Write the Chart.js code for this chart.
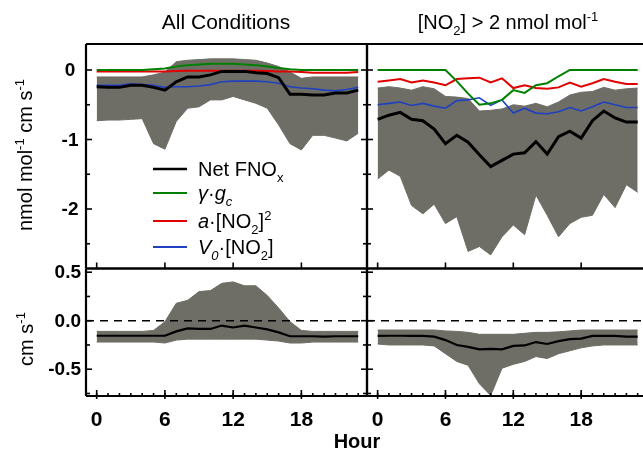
<!DOCTYPE html>
<html>
<head>
<meta charset="utf-8">
<script src="https://cdn.jsdelivr.net/npm/chart.js@4.4.1/dist/chart.umd.min.js"></script>
<style>
body { margin: 0; background: #fff; }
#wrap { position: relative; width: 643px; height: 453px; }
#wrap canvas { position: absolute; left: 0; top: 0; }
</style>
</head>
<body>
<div id="wrap">
<canvas id="tl" width="643" height="453"></canvas>
<canvas id="tr" width="643" height="453"></canvas>
<canvas id="bl" width="643" height="453"></canvas>
<canvas id="br" width="643" height="453"></canvas>
</div>
<script>
// hours of day
var hours = [0,1,2,3,4,5,6,7,8,9,10,11,12,13,14,15,16,17,18,19,20,21,22,23];

// ticks
var xTicks = [0, 6, 12, 18];
var yTicksTop = [0, -1, -2];
var yMinorTop = [-0.5, -1.5, -2.5];
var yTicksBot = [0.5, 0, -0.5];
var yMinorBot = [0.25, -0.25, -0.75];

// top left: all conditions, flux terms (nmol mol-1 cm s-1)
var netAll   = [-0.24,-0.25,-0.25,-0.22,-0.22,-0.25,-0.29,-0.17,-0.10,-0.10,-0.07,-0.02,-0.02,-0.02,-0.04,-0.05,-0.11,-0.35,-0.35,-0.36,-0.36,-0.33,-0.33,-0.29];
var gammaAll = [0,0,0,0,0,0.01,0.02,0.05,0.07,0.08,0.09,0.09,0.09,0.08,0.07,0.05,0.03,0.01,0,0,0,0,0,0];
var aNo2All  = [-0.02,-0.02,-0.02,-0.02,-0.02,-0.02,-0.02,-0.015,-0.01,-0.01,-0.01,-0.01,-0.01,-0.01,-0.01,-0.015,-0.02,-0.02,-0.03,-0.04,-0.04,-0.04,-0.04,-0.03];
var v0No2All = [-0.22,-0.22,-0.22,-0.2,-0.21,-0.22,-0.25,-0.24,-0.24,-0.23,-0.21,-0.17,-0.16,-0.16,-0.16,-0.17,-0.19,-0.24,-0.26,-0.27,-0.29,-0.3,-0.28,-0.25];
var bandAllHi = [-0.10,-0.10,-0.10,-0.10,-0.10,-0.07,-0.03,0.12,0.14,0.15,0.16,0.16,0.16,0.15,0.14,0.10,0.05,-0.03,-0.12,-0.10,-0.10,-0.10,-0.10,-0.10];
var bandAllLo = [-0.73,-0.72,-0.72,-0.71,-0.70,-1.06,-1.14,-0.74,-0.55,-0.53,-0.43,-0.43,-0.38,-0.43,-0.48,-0.55,-0.79,-1.06,-1.15,-0.94,-0.94,-0.98,-1.02,-0.91];

// top right: [NO2] > 2 nmol mol-1
var netHi   = [-0.71,-0.65,-0.61,-0.71,-0.73,-0.85,-1.06,-0.94,-1.04,-1.22,-1.39,-1.30,-1.21,-1.19,-1.03,-1.21,-0.96,-0.88,-0.98,-0.73,-0.59,-0.69,-0.75,-0.75];
var gammaHi = [0,0,0,0,0,0,0,-0.16,-0.34,-0.50,-0.48,-0.43,-0.29,-0.33,-0.22,-0.19,-0.09,0,0,0,0,0,0,0];
var aNo2Hi  = [-0.17,-0.15,-0.13,-0.18,-0.15,-0.18,-0.22,-0.13,-0.12,-0.11,-0.18,-0.12,-0.26,-0.22,-0.26,-0.27,-0.25,-0.18,-0.24,-0.19,-0.13,-0.17,-0.2,-0.2];
var v0No2Hi = [-0.5,-0.48,-0.46,-0.51,-0.48,-0.52,-0.55,-0.44,-0.43,-0.4,-0.51,-0.43,-0.62,-0.55,-0.62,-0.63,-0.6,-0.54,-0.59,-0.53,-0.46,-0.5,-0.54,-0.54];
var bandHiHi = [-0.26,-0.24,-0.26,-0.29,-0.24,-0.27,-0.38,-0.39,-0.41,-0.59,-0.58,-0.56,-0.5,-0.52,-0.48,-0.53,-0.46,-0.36,-0.32,-0.31,-0.25,-0.29,-0.27,-0.26];
var bandHiLo = [-1.57,-1.44,-1.53,-1.95,-2.07,-1.93,-2.21,-2.11,-2.61,-2.54,-2.66,-2.40,-2.23,-2.37,-1.80,-2.09,-2.40,-2.21,-2.12,-2.09,-1.79,-1.98,-1.65,-1.76];

// bottom: deposition velocity (cm s-1)
var vdAll   = [-0.155,-0.155,-0.155,-0.155,-0.155,-0.155,-0.155,-0.11,-0.08,-0.085,-0.085,-0.05,-0.07,-0.05,-0.07,-0.09,-0.12,-0.16,-0.16,-0.16,-0.165,-0.16,-0.16,-0.16];
var vdAllHi = [-0.11,-0.11,-0.11,-0.11,-0.11,-0.10,-0.01,0.18,0.21,0.30,0.31,0.385,0.40,0.36,0.36,0.26,0.13,-0.01,-0.10,-0.11,-0.11,-0.11,-0.11,-0.11];
var vdAllLo = [-0.22,-0.22,-0.22,-0.22,-0.22,-0.22,-0.23,-0.20,-0.19,-0.19,-0.19,-0.19,-0.19,-0.19,-0.19,-0.20,-0.21,-0.23,-0.23,-0.22,-0.22,-0.22,-0.22,-0.22];
var vdHi    = [-0.157,-0.155,-0.155,-0.157,-0.157,-0.165,-0.2,-0.25,-0.27,-0.295,-0.29,-0.295,-0.26,-0.255,-0.22,-0.24,-0.21,-0.19,-0.185,-0.157,-0.157,-0.157,-0.165,-0.165];
var vdHiHi  = [-0.096,-0.096,-0.096,-0.096,-0.096,-0.096,-0.105,-0.11,-0.12,-0.14,-0.14,-0.14,-0.14,-0.13,-0.12,-0.12,-0.115,-0.105,-0.096,-0.096,-0.096,-0.096,-0.096,-0.096];
var vdHiLo  = [-0.24,-0.25,-0.25,-0.25,-0.25,-0.26,-0.34,-0.42,-0.46,-0.65,-0.77,-0.49,-0.45,-0.42,-0.37,-0.39,-0.34,-0.31,-0.28,-0.26,-0.25,-0.25,-0.25,-0.25];

var GRAY = '#6e6e66';
var GREEN = '#008000', RED = '#e00000', BLUE = '#2040c0';
var FONT = '"Liberation Sans", Arial, sans-serif';

function pts(arr) {
    return hours.map(function (h, i) { return { x: h, y: arr[i] }; });
}
function band(hi, lo) {
    return [
        { data: pts(hi), fill: '+1', backgroundColor: GRAY, borderColor: GRAY, borderWidth: 1, pointRadius: 0, order: 10 },
        { data: pts(lo), fill: false, borderColor: GRAY, borderWidth: 1, pointRadius: 0, order: 11 }
    ];
}
function line(arr, color, w, order) {
    return { data: pts(arr), borderColor: color, borderWidth: w, pointRadius: 0, fill: false, tension: 0, order: order };
}

// rich text: segments with sub / sup / italic
function segFont(s, size) {
    var sz = (s.sub || s.sup) ? Math.round(size * 0.65) : size;
    return (s.it ? 'italic ' : '') + (s.bold ? 'bold ' : '') + sz + 'px ' + FONT;
}
function richWidth(c, segs, size) {
    var w = 0;
    segs.forEach(function (s) { c.font = segFont(s, size); w += c.measureText(s.t).width; });
    return w;
}
function drawRich(c, segs, x, y, size, align) {
    var w = richWidth(c, segs, size);
    var cx = align === 'center' ? x - w / 2 : x;
    c.textAlign = 'left';
    c.textBaseline = 'alphabetic';
    segs.forEach(function (s) {
        c.font = segFont(s, size);
        var dy = s.sub ? size * 0.3 : (s.sup ? -size * 0.38 : 0);
        c.fillText(s.t, cx, y + dy);
        cx += c.measureText(s.t).width;
    });
}

// frame, inward ticks and tick labels, placed with the chart's scales
function frame(o) {
    return {
        id: 'frame',
        afterDatasetsDraw: function (chart) {
            var c = chart.ctx, a = chart.chartArea, xs = chart.scales.x, ys = chart.scales.y;
            function seg(x1, y1, x2, y2) { c.beginPath(); c.moveTo(x1, y1); c.lineTo(x2, y2); c.stroke(); }
            c.save();
            c.strokeStyle = '#000';
            if (o.zero) {
                c.lineWidth = 1.5;
                c.setLineDash([8, 6]);
                var z = ys.getPixelForValue(0);
                seg(a.left, z, a.right, z);
                c.setLineDash([]);
            }
            c.lineWidth = 2.2;
            seg(a.left, a.top, a.right, a.top);
            seg(a.left, a.bottom, a.right, a.bottom);
            seg(a.left, a.top, a.left, a.bottom);
            if (o.right) seg(a.right, a.top, a.right, a.bottom);
            c.lineWidth = 1.6;
            o.yMajor.forEach(function (v) {
                var p = ys.getPixelForValue(v);
                seg(a.left, p, a.left + 6, p);
                if (o.right) seg(a.right - 6, p, a.right, p);
            });
            o.yMinor.forEach(function (v) {
                var p = ys.getPixelForValue(v);
                seg(a.left, p, a.left + 4, p);
                if (o.right) seg(a.right - 4, p, a.right, p);
            });
            xTicks.forEach(function (v) {
                var p = xs.getPixelForValue(v);
                seg(p, a.bottom - 6, p, a.bottom + (o.xMinor ? 3 : 0));
            });
            if (o.xMinor) {
                hours.forEach(function (h) {
                    var p = xs.getPixelForValue(h);
                    seg(p, a.bottom - 3, p, a.bottom);
                });
            }
            c.fillStyle = '#000';
            if (o.yLabels) {
                c.font = 'bold 19px ' + FONT;
                c.textBaseline = 'middle';
                c.textAlign = o.yAlign;
                o.yMajor.forEach(function (v) {
                    var p = ys.getPixelForValue(v);
                    c.fillText(o.fmt(v), o.yAlign === 'center' ? a.left - 16 : a.left - 5, p + 1);
                });
            }
            if (o.xLabels) {
                c.font = 'bold 21px ' + FONT;
                c.textBaseline = 'middle';
                c.textAlign = 'center';
                xTicks.forEach(function (v) {
                    c.fillText(String(v), xs.getPixelForValue(v), a.bottom + 24);
                });
            }
            c.restore();
        }
    };
}

// titles, axis titles and legend
var texts = {
    id: 'texts',
    afterDraw: function (chart) {
        var c = chart.ctx;
        c.save();
        c.fillStyle = '#000';
        drawRich(c, [{ t: 'All Conditions' }], 226, 29, 21, 'center');
        drawRich(c, [{ t: '[NO' }, { t: '2', sub: true }, { t: '] > 2 nmol mol' }, { t: '-1', sup: true }], 508, 29, 20, 'center');

        c.save();
        c.translate(32, 155);
        c.rotate(-Math.PI / 2);
        drawRich(c, [{ t: 'nmol mol' }, { t: '-1', sup: true }, { t: ' cm s' }, { t: '-1', sup: true }], 0, 0, 20, 'center');
        c.restore();
        c.save();
        c.translate(33, 339);
        c.rotate(-Math.PI / 2);
        drawRich(c, [{ t: 'cm s' }, { t: '-1', sup: true }], 0, 0, 20, 'center');
        c.restore();

        c.font = 'bold 20px ' + FONT;
        c.textAlign = 'center';
        c.textBaseline = 'alphabetic';
        c.fillText('Hour', 357, 448);

        var rows = [
            { y: 169, color: '#000', w: 2.5, segs: [{ t: 'Net FNO' }, { t: 'x', sub: true }] },
            { y: 193, color: GREEN, w: 2, segs: [{ t: 'γ', it: true }, { t: '·' }, { t: 'g', it: true }, { t: 'c', it: true, sub: true }] },
            { y: 221, color: RED, w: 2, segs: [{ t: 'a', it: true }, { t: '·[NO' }, { t: '2', sub: true }, { t: ']' }, { t: '2', sup: true }] },
            { y: 247, color: BLUE, w: 2, segs: [{ t: 'V', it: true }, { t: '0', it: true, sub: true }, { t: '·[NO' }, { t: '2', sub: true }, { t: ']' }] }
        ];
        rows.forEach(function (r) {
            c.strokeStyle = r.color;
            c.lineWidth = r.w;
            c.beginPath(); c.moveTo(153, r.y); c.lineTo(187, r.y); c.stroke();
            drawRich(c, r.segs, 198, r.y + 7, 20, 'left');
        });
        c.restore();
    }
};

function makeChart(id, datasets, pad, xr, yr, deco, extra) {
    var plugins = [frame(deco)];
    if (extra) plugins.push(extra);
    return new Chart(document.getElementById(id).getContext('2d'), {
        type: 'line',
        data: { datasets: datasets },
        options: {
            responsive: false,
            animation: false,
            events: [],
            layout: { padding: pad },
            plugins: { legend: { display: false }, tooltip: { enabled: false } },
            scales: {
                x: { type: 'linear', display: false, min: xr[0], max: xr[1] },
                y: { type: 'linear', display: false, min: yr[0], max: yr[1] }
            }
        },
        plugins: plugins
    });
}

var topY = [-2.856, 0.374];
var botY = [-0.776, 0.538];
var leftX = [-0.94, 23.77];
var rightX = [-0.94, 23.47];

var fmtTop = function (v) { return String(v); };
var fmtBot = function (v) { return v.toFixed(1); };

makeChart('tl',
    band(bandAllHi, bandAllLo).concat([
        line(netAll, '#000', 3, 1),
        line(gammaAll, GREEN, 2, 3),
        line(aNo2All, RED, 2, 4),
        line(v0No2All, BLUE, 1.6, 2)
    ]),
    { left: 86, top: 44, right: 276, bottom: 184.5 }, leftX, topY,
    { right: true, yMajor: yTicksTop, yMinor: yMinorTop, yLabels: true, yAlign: 'center', fmt: fmtTop },
    texts);

makeChart('tr',
    band(bandHiHi, bandHiLo).concat([
        line(netHi, '#000', 3, 1),
        line(gammaHi, GREEN, 2, 2),
        line(aNo2Hi, RED, 2, 3),
        line(v0No2Hi, BLUE, 1.6, 4)
    ]),
    { left: 367, top: 44, right: 0, bottom: 184.5 }, rightX, topY,
    { right: false, yMajor: yTicksTop, yMinor: yMinorTop });

makeChart('bl',
    band(vdAllHi, vdAllLo).concat([line(vdAll, '#000', 2.2, 1)]),
    { left: 86, top: 268.5, right: 276, bottom: 57 }, leftX, botY,
    { right: true, zero: true, xMinor: true, xLabels: true, yMajor: yTicksBot, yMinor: yMinorBot, yLabels: true, yAlign: 'right', fmt: fmtBot });

makeChart('br',
    band(vdHiHi, vdHiLo).concat([line(vdHi, '#000', 2.2, 1)]),
    { left: 367, top: 268.5, right: 0, bottom: 57 }, rightX, botY,
    { right: false, zero: true, xMinor: true, xLabels: true, yMajor: yTicksBot, yMinor: yMinorBot });
</script>
</body>
</html>
